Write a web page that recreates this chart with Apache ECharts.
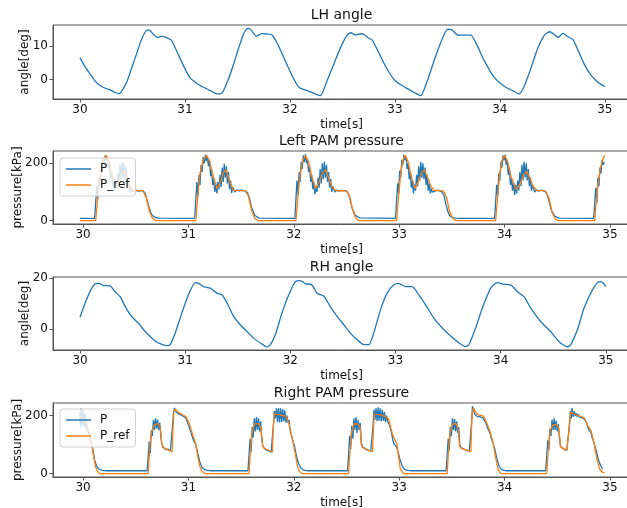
<!DOCTYPE html>
<html>
<head>
<meta charset="utf-8">
<script src="https://cdn.jsdelivr.net/npm/echarts@6/dist/echarts.min.js"></script>
<style>
  html, body { margin: 0; padding: 0; background: #fff; }
  #chart { width: 627px; height: 508px; }
</style>
</head>
<body>
<div id="chart"></div>
<script>
// ---- data ----
var timeTicks = [30, 31, 32, 33, 34, 35]

// LH angle [deg]
var lhAngle = [[30.0, 6.5], [30.05, 3.7], [30.095, 1.7], [30.145, -0.5], [30.19, -1.8], [30.24, -2.6], [30.29, -3.1], [30.33, -3.8], [30.37, -4.2], [30.39, -3.8], [30.445, -0.8], [30.49, 3.2], [30.54, 7.7], [30.59, 12.2], [30.64, 14.7], [30.66, 14.7], [30.70, 13.4], [30.74, 12.5], [30.78, 12.9], [30.83, 12.4], [30.87, 11.7], [30.91, 9.2], [30.955, 6.2], [31.0, 3.2], [31.05, 0.4], [31.1, -0.8], [31.145, -1.8], [31.19, -2.5], [31.24, -3.3], [31.29, -4.1], [31.335, -4.3], [31.36, -3.8], [31.415, 0.2], [31.465, 4.7], [31.51, 9.2], [31.56, 13.7], [31.6, 15.2], [31.625, 14.9], [31.68, 12.9], [31.735, 13.7], [31.78, 13.5], [31.83, 13.2], [31.88, 10.7], [31.925, 7.7], [31.975, 4.2], [32.02, 1.2], [32.085, -2.3], [32.165, -3.3], [32.22, -4.0], [32.29, -4.8], [32.355, -0.3], [32.42, 4.7], [32.485, 9.7], [32.545, 13.2], [32.58, 13.9], [32.625, 13.2], [32.675, 13.6], [32.7, 13.5], [32.755, 12.2], [32.785, 11.7], [32.835, 8.7], [32.915, 3.7], [33.0, -0.3], [33.105, -2.5], [33.18, -3.8], [33.245, -4.8], [33.31, -0.3], [33.375, 5.7], [33.44, 11.2], [33.5, 14.9], [33.535, 14.9], [33.6, 13.2], [33.66, 13.2], [33.725, 13.2], [33.79, 9.7], [33.85, 5.7], [33.945, 0.7], [34.045, -2.1], [34.12, -3.3], [34.185, -4.3], [34.235, -1.8], [34.3, 3.7], [34.36, 9.2], [34.425, 13.2], [34.475, 14.2], [34.505, 13.7], [34.555, 12.5], [34.6, 13.7], [34.65, 12.7], [34.695, 11.9], [34.745, 8.7], [34.81, 4.2], [34.87, 1.2], [34.935, -0.8], [35.0, -2.1]]

// RH angle [deg]
var rhAngle = [[30.0, 4.6], [30.048, 10.1], [30.095, 14.7], [30.143, 17.8], [30.184, 18.0], [30.222, 17.1], [30.286, 17.0], [30.333, 14.7], [30.381, 12.7], [30.43, 8.8], [30.49, 4.9], [30.555, 2.2], [30.62, -1.1], [30.7, -4.3], [30.76, -5.9], [30.826, -6.7], [30.857, -6.3], [30.905, -1.7], [30.968, 6.2], [31.03, 13.4], [31.095, 18.3], [31.127, 18.0], [31.175, 16.7], [31.238, 16.1], [31.3, 14.1], [31.35, 13.5], [31.4, 10.1], [31.46, 4.9], [31.524, 1.6], [31.588, -1.1], [31.65, -3.7], [31.714, -5.6], [31.778, -7.2], [31.81, -6.3], [31.857, -2.4], [31.92, 6.2], [31.984, 13.4], [32.048, 18.7], [32.095, 19.1], [32.143, 17.8], [32.2, 17.6], [32.254, 14.1], [32.317, 13.0], [32.38, 8.8], [32.445, 4.9], [32.508, 1.6], [32.57, -1.7], [32.635, -4.3], [32.698, -6.3], [32.746, -6.3], [32.793, -1.7], [32.857, 7.5], [32.92, 14.1], [32.984, 17.4], [33.03, 18.0], [33.095, 16.7], [33.16, 16.7], [33.22, 13.5], [33.286, 9.5], [33.365, 4.2], [33.445, 0.3], [33.524, -2.9], [33.603, -5.6], [33.667, -7.0], [33.698, -6.3], [33.762, 0.3], [33.826, 8.2], [33.905, 16.1], [33.968, 18.3], [34.03, 17.6], [34.095, 17.4], [34.16, 14.7], [34.222, 12.7], [34.286, 8.2], [34.38, 2.9], [34.476, -1.1], [34.555, -5.1], [34.635, -7.2], [34.667, -6.3], [34.73, -0.4], [34.793, 8.2], [34.873, 15.4], [34.936, 18.7], [34.97, 18.3], [35.0, 16.7]]

// Left PAM pressure [kPa]
var leftStart = 29.97
var leftEnd = 34.95
var leftRise = [30.12, 31.07, 32.02, 32.975, 33.915, 34.855]
var leftPRefPts = [[29.97, 0], [30.10, 0],
  [30.12, 0], [30.14, 85], [30.16, 160], [30.19, 210], [30.22, 228], [30.25, 205], [30.28, 155], [30.31, 115], [30.34, 135], [30.37, 165], [30.39, 175], [30.42, 150], [30.45, 115], [30.48, 102], [30.52, 106], [30.57, 104], [30.60, 80], [30.63, 32], [30.66, 8], [30.69, 0],
  [31.07, 0], [31.09, 90], [31.11, 165], [31.14, 210], [31.17, 229], [31.20, 210], [31.23, 160], [31.27, 112], [31.30, 130], [31.33, 165], [31.355, 178], [31.38, 150], [31.41, 118], [31.44, 104], [31.48, 106], [31.54, 104], [31.57, 85], [31.60, 35], [31.63, 8], [31.66, 0],
  [32.02, 0], [32.04, 90], [32.06, 165], [32.085, 210], [32.11, 228], [32.14, 205], [32.17, 155], [32.206, 112], [32.24, 135], [32.27, 165], [32.30, 178], [32.33, 150], [32.36, 120], [32.40, 104], [32.44, 105], [32.50, 104], [32.53, 85], [32.56, 35], [32.59, 8], [32.62, 0],
  [32.975, 0], [32.995, 90], [33.015, 165], [33.035, 210], [33.058, 228], [33.085, 205], [33.115, 155], [33.15, 112], [33.18, 135], [33.21, 165], [33.24, 178], [33.27, 150], [33.30, 120], [33.34, 104], [33.38, 106], [33.42, 103], [33.45, 80], [33.48, 30], [33.51, 7], [33.54, 0],
  [33.915, 0], [33.935, 90], [33.955, 165], [33.975, 210], [34.0, 228], [34.03, 205], [34.06, 155], [34.11, 108], [34.15, 130], [34.18, 160], [34.207, 172], [34.24, 150], [34.27, 120], [34.31, 104], [34.35, 106], [34.39, 103], [34.42, 80], [34.45, 30], [34.48, 7], [34.51, 0],
  [34.855, 0], [34.87, 70], [34.89, 140], [34.91, 185], [34.93, 212], [34.95, 228]]
// P samples: time offset from each rise, values per cycle
var leftPOff = [-0.01, 0.005, 0.01, 0.02, 0.03, 0.04, 0.05, 0.06, 0.07, 0.08, 0.09, 0.10, 0.11, 0.12, 0.13, 0.14, 0.15, 0.16, 0.17, 0.18, 0.19, 0.20, 0.21, 0.22, 0.23, 0.24, 0.25, 0.26, 0.27, 0.28, 0.29, 0.30, 0.31, 0.32, 0.33, 0.34, 0.35, 0.37, 0.39, 0.41, 0.43, 0.45, 0.47, 0.49, 0.51, 0.53, 0.56, 0.60]
var leftP1 = [8, 9, 120, 75, 150, 120, 185, 165, 215, 200, 228, 210, 222, 185, 205, 150, 175, 120, 150, 105, 140, 110, 165, 125, 195, 140, 205, 150, 200, 140, 185, 120, 150, 100, 125, 95, 110, 100, 106, 103, 106, 104, 95, 70, 42, 22, 12, 9]
var leftP2 = [8, 9, 135, 85, 160, 125, 195, 170, 222, 200, 230, 208, 226, 190, 212, 155, 180, 125, 150, 100, 130, 95, 135, 110, 160, 118, 185, 135, 198, 150, 190, 130, 170, 110, 140, 96, 118, 100, 108, 104, 107, 105, 103, 98, 78, 45, 18, 9]
var leftP3 = [8, 9, 140, 90, 170, 135, 205, 180, 228, 205, 232, 200, 215, 170, 190, 135, 160, 110, 135, 92, 120, 100, 150, 115, 180, 130, 200, 145, 205, 150, 195, 135, 170, 115, 145, 100, 120, 100, 107, 103, 106, 105, 104, 100, 80, 48, 20, 10]
var leftP4 = [8, 9, 130, 95, 175, 150, 212, 195, 230, 210, 225, 180, 200, 145, 170, 115, 140, 95, 125, 105, 160, 120, 190, 140, 205, 150, 200, 145, 185, 125, 160, 105, 130, 95, 112, 100, 106, 104, 107, 104, 100, 88, 55, 28, 15, 11, 9, 8]
var leftP5 = [8, 9, 125, 85, 165, 140, 205, 185, 228, 210, 230, 195, 212, 160, 185, 125, 150, 105, 135, 90, 125, 95, 140, 105, 170, 120, 195, 140, 205, 150, 200, 140, 180, 120, 150, 105, 125, 100, 108, 103, 107, 105, 102, 90, 62, 35, 16, 9]
var leftP6 = [8, 9, 115, 60, 150, 120, 185, 165, 210, 195, 205]

// Right PAM pressure [kPa]
var rightStart = 29.97
var rightEnd = 34.95
var rightRise = [30.618, 31.575, 32.52, 33.455, 34.40]
var rightPRefHead = [[29.97, 195], [30.0, 190], [30.03, 175], [30.06, 140], [30.08, 105], [30.10, 60], [30.12, 22], [30.14, 6], [30.16, 0]]
var rightPHead = [[29.97, 210], [29.975, 160], [29.98, 225], [29.99, 165], [30.0, 220], [30.01, 160], [30.02, 205], [30.03, 150], [30.04, 170], [30.05, 140], [30.06, 130], [30.07, 110], [30.08, 100], [30.09, 90], [30.10, 70], [30.11, 45], [30.13, 25], [30.15, 16], [30.18, 11], [30.22, 10]]
// P_ref per cycle: [offset from rise, value]
var rightRef1 = [[0, 0], [0.01, 60], [0.025, 130], [0.045, 160], [0.06, 168], [0.09, 172], [0.11, 165], [0.12, 140], [0.13, 100], [0.14, 90], [0.17, 85], [0.20, 80], [0.228, 75], [0.236, 160], [0.245, 215], [0.255, 222], [0.28, 212], [0.31, 206], [0.34, 200], [0.36, 195], [0.39, 172], [0.42, 137], [0.45, 105], [0.47, 60], [0.49, 25], [0.51, 8], [0.54, 0]]
var rightRef2 = [[0, 0], [0.01, 60], [0.025, 135], [0.045, 165], [0.06, 172], [0.09, 172], [0.11, 160], [0.12, 130], [0.13, 95], [0.14, 88], [0.17, 83], [0.20, 78], [0.222, 74], [0.23, 160], [0.24, 205], [0.25, 210], [0.28, 203], [0.32, 200], [0.355, 196], [0.38, 170], [0.40, 135], [0.42, 105], [0.44, 65], [0.46, 25], [0.48, 8], [0.50, 0]]
var rightRef3 = [[0, 0], [0.01, 60], [0.025, 135], [0.045, 165], [0.06, 172], [0.09, 170], [0.11, 158], [0.12, 100], [0.13, 90], [0.16, 85], [0.19, 80], [0.228, 76], [0.236, 160], [0.245, 205], [0.26, 210], [0.30, 202], [0.34, 198], [0.38, 188], [0.41, 143], [0.435, 120], [0.458, 103], [0.475, 55], [0.49, 17], [0.52, 0]]
var rightRef4 = [[0, 0], [0.01, 60], [0.025, 135], [0.045, 165], [0.06, 172], [0.09, 170], [0.105, 150], [0.118, 95], [0.13, 88], [0.16, 84], [0.19, 80], [0.225, 76], [0.232, 170], [0.24, 215], [0.25, 226], [0.27, 210], [0.30, 202], [0.345, 198], [0.36, 188], [0.405, 148], [0.435, 108], [0.46, 55], [0.485, 12], [0.51, 0]]
var rightRef5 = [[0, 0], [0.01, 60], [0.025, 130], [0.045, 160], [0.06, 168], [0.09, 168], [0.11, 160], [0.125, 120], [0.13, 92], [0.16, 86], [0.19, 80], [0.205, 78], [0.215, 160], [0.225, 205], [0.235, 212], [0.26, 205], [0.30, 200], [0.33, 196], [0.36, 190], [0.39, 165], [0.42, 148], [0.45, 103], [0.47, 60], [0.50, 17], [0.53, 5], [0.55, 3]]
var rightPOff = [-0.01, 0.005, 0.01, 0.02, 0.03, 0.04, 0.05, 0.06, 0.07, 0.08, 0.09, 0.10, 0.11, 0.12, 0.13, 0.15, 0.17, 0.19, 0.21, 0.225, 0.232, 0.24, 0.25, 0.26, 0.27, 0.28, 0.29, 0.30, 0.31, 0.32, 0.33, 0.34, 0.35, 0.36, 0.37, 0.38, 0.39, 0.40, 0.41, 0.42, 0.43, 0.44, 0.45, 0.47, 0.49, 0.51, 0.53, 0.56, 0.60]
var rightP1 = [10, 10, 110, 70, 150, 130, 185, 150, 190, 155, 185, 150, 175, 130, 100, 88, 82, 84, 78, 76, 165, 210, 226, 215, 218, 208, 212, 204, 208, 200, 203, 196, 198, 190, 185, 170, 160, 148, 138, 125, 115, 108, 100, 72, 40, 22, 15, 11, 10]
var rightP2 = [10, 10, 120, 75, 160, 125, 190, 145, 195, 150, 190, 145, 180, 125, 95, 86, 80, 78, 74, 72, 170, 215, 190, 225, 178, 226, 176, 225, 178, 222, 180, 218, 175, 200, 175, 185, 150, 135, 120, 108, 98, 80, 60, 35, 20, 14, 11, 10, 10]
var rightP3 = [10, 10, 130, 85, 165, 120, 190, 150, 195, 140, 185, 150, 175, 110, 92, 88, 82, 80, 78, 75, 165, 220, 185, 226, 180, 228, 182, 225, 180, 220, 182, 212, 178, 200, 180, 185, 165, 150, 135, 115, 102, 100, 95, 75, 45, 25, 15, 11, 10]
var rightP4 = [10, 10, 120, 80, 160, 130, 190, 150, 188, 145, 180, 140, 160, 100, 90, 86, 82, 80, 77, 75, 175, 232, 220, 205, 210, 198, 202, 196, 200, 194, 198, 192, 190, 180, 172, 160, 155, 145, 135, 120, 110, 100, 88, 55, 28, 16, 12, 10, 10]
var rightP5 = [10, 10, 115, 80, 155, 130, 185, 150, 190, 150, 182, 145, 170, 125, 95, 88, 82, 80, 150, 215, 190, 226, 195, 215, 198, 208, 196, 204, 195, 200, 193, 196, 190, 188, 180, 172, 160, 150, 145, 140, 125, 115, 105, 78, 48, 28, 15]

// ---- build [time, value] lists ----
function fromOffsets (rises, offsets, sets, t0, t1) {
  var out = []
  rises.forEach(function (r, c) {
    sets[c].forEach(function (v, k) {
      var t = +(r + offsets[k]).toFixed(4)
      if (t >= t0 && t <= t1 + 1e-6) out.push([t, v])
    })
  })
  return out
}
function fromPairs (rises, sets, t0, t1) {
  var out = []
  rises.forEach(function (r, c) {
    sets[c].forEach(function (p) {
      var t = +(r + p[0]).toFixed(4)
      if (t >= t0 && t <= t1 + 1e-6) out.push([t, p[1]])
    })
  })
  return out
}

var leftP = [[leftStart, 8]].concat(fromOffsets(leftRise, leftPOff, [leftP1, leftP2, leftP3, leftP4, leftP5, leftP6], leftStart, leftEnd))
var leftPRef = leftPRefPts
var rightP = rightPHead.concat(fromOffsets(rightRise, rightPOff, [rightP1, rightP2, rightP3, rightP4, rightP5], rightStart, rightEnd))
var rightPRef = rightPRefHead.concat(fromPairs(rightRise, [rightRef1, rightRef2, rightRef3, rightRef4, rightRef5], rightStart, rightEnd))

// ---- chart ----
var chart = echarts.init(document.getElementById('chart'), null, { renderer: 'canvas' })
var font = 'DejaVu Sans'
var spine = '#555'
var blue = '#1f77b4'
var orange = '#ff7f0e'

// right edge of each axes box sits just past the canvas, as in the reference
var grids = [
  { left: 53, top: 25, width: 577, height: 74 },
  { left: 53, top: 151, width: 577, height: 73 },
  { left: 53, top: 277, width: 577, height: 73 },
  { left: 53, top: 403, width: 577, height: 74 }
].map(function (g) {
  return Object.assign(g, { show: true, borderColor: spine, borderWidth: 1, backgroundColor: 'transparent', outerBoundsMode: 'none', containLabel: false })
})

function xAxis (i, min, max) {
  return {
    type: 'value', gridIndex: i, min: min, max: max,
    name: 'time[s]', nameLocation: 'middle', nameGap: 20, nameMoveOverlap: false,
    nameTextStyle: { fontSize: 12, color: '#111', fontFamily: font },
    axisLine: { show: true, onZero: false, lineStyle: { color: spine } },
    axisTick: { show: true, length: 3.5, customValues: timeTicks, lineStyle: { color: spine } },
    axisLabel: { fontSize: 12, color: '#111', margin: 5, fontFamily: font, customValues: timeTicks },
    splitLine: { show: false }
  }
}
function yAxis (i, min, max, ticks, name, gap) {
  return {
    type: 'value', gridIndex: i, min: min, max: max,
    name: name, nameLocation: 'middle', nameGap: gap, nameMoveOverlap: false,
    nameTextStyle: { fontSize: 12, color: '#111', fontFamily: font },
    axisLine: { show: true, onZero: false, lineStyle: { color: spine } },
    axisTick: { show: true, length: 3.5, customValues: ticks, lineStyle: { color: spine } },
    axisLabel: { fontSize: 12, color: '#111', margin: 5, fontFamily: font, customValues: ticks },
    splitLine: { show: false }
  }
}
function title (text, top) {
  return { text: text, left: 341.5, top: top, padding: 0, textAlign: 'center',
    textStyle: { fontSize: 14, fontWeight: 'normal', color: '#111', fontFamily: font } }
}
function legend (top) {
  return {
    data: ['P', 'P_ref'], orient: 'vertical', left: 60, top: top,
    icon: 'rect', itemWidth: 25, itemHeight: 1.5, itemGap: 4, padding: [5, 6],
    backgroundColor: 'rgba(255,255,255,0.8)', borderColor: '#d0d0d0', borderWidth: 1, borderRadius: 3,
    textStyle: { fontSize: 12, color: '#111', fontFamily: font, padding: [0, 0, 0, 4] }
  }
}
function line (name, data, color, i, smooth) {
  return {
    name: name, type: 'line', xAxisIndex: i, yAxisIndex: i, data: data,
    symbol: 'none', smooth: smooth || false, animation: false,
    lineStyle: { color: color, width: 1.3 }, itemStyle: { color: color }
  }
}

chart.setOption({
  animation: false,
  textStyle: { fontFamily: font },
  title: [
    title('LH angle', 8),
    title('Left PAM pressure', 134),
    title('RH angle', 260),
    title('Right PAM pressure', 386)
  ],
  legend: [legend(158), legend(409)],
  grid: grids,
  xAxis: [xAxis(0, 29.743, 35.24), xAxis(1, 29.715, 35.19), xAxis(2, 29.743, 35.23), xAxis(3, 29.715, 35.19)],
  yAxis: [
    yAxis(0, -5.8, 16.2, [0, 10], 'angle[deg]', 22),
    yAxis(1, -11.5, 243, [0, 200], 'pressure[kPa]', 29),
    yAxis(2, -8.4, 20.5, [0, 20], 'angle[deg]', 22),
    yAxis(3, -11.5, 243, [0, 200], 'pressure[kPa]', 29)
  ],
  series: [
    line('LH angle', lhAngle, blue, 0, 0.2),
    line('P', leftP, blue, 1),
    line('P_ref', leftPRef, orange, 1),
    line('RH angle', rhAngle, blue, 2, 0.2),
    line('P', rightP, blue, 3),
    line('P_ref', rightPRef, orange, 3)
  ]
})
</script>
</body>
</html>
